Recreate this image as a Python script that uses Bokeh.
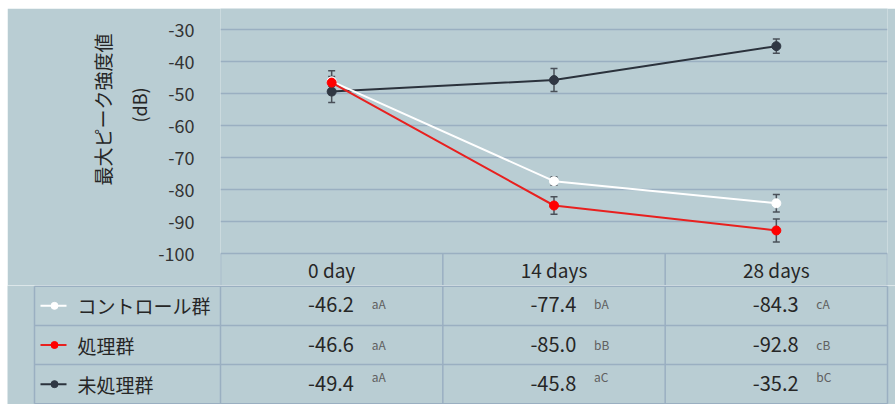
from bokeh.plotting import figure
from bokeh.models import Range1d, FixedTicker, ColumnDataSource, Whisker, TeeHead, Title
from bokeh.layouts import column
from bokeh.embed import file_html
from bokeh.resources import INLINE
from bokeh.core.properties import value

# ---------------- data ----------------
days = ["0 day", "14 days", "28 days"]
series_names = ["コントロール群", "処理群", "未処理群"]
control = [-46.2, -77.4, -84.3]
treated = [-46.6, -85.0, -92.8]
untreated = [-49.4, -45.8, -35.2]
control_err = [1.5, 1.3, 2.7]
treated_err = [3.7, 2.7, 3.6]
untreated_err = [3.4, 3.6, 2.2]
control_sig = ["aA", "bA", "cA"]
treated_sig = ["aA", "bB", "cB"]
untreated_sig = ["aA", "aC", "bC"]
y_ticks = [-100, -90, -80, -70, -60, -50, -40, -30]
y_title = "最大ピーク強度値"
y_unit = "(dB)"

# ---------------- style / layout ----------------
BG = "#b9cdd3"
GRID = "#9aafc1"
TXT = "#262626"
FONT = "Noto Sans CJK JP"
line_colors = ["#ffffff", "#e8201f", "#2b323c"]
marker_colors = ["#ffffff", "#ff0000", "#2f3743"]
ERR = "#4a5059"

PAGE_X0, PAGE_Y0 = 7, 8          # white strip left / top as in the reference
W = 888
TOP_H = 277
TAB_H = 119
FRAME_L, FRAME_R = 220, 887      # page x of plot frame
LEFT = FRAME_L - PAGE_X0
RIGHT = PAGE_X0 + W - FRAME_R
ppu = (FRAME_R - FRAME_L) / len(days)
PX_PER_DB = 3.2
Y_BOTTOM = min(y_ticks) - 32 / PX_PER_DB      # header row below -100
Y_TOP = max(y_ticks) + 21 / PX_PER_DB

x_pos = [i + 0.5 for i in range(len(days))]

p = figure(width=W, height=TOP_H,
           x_range=Range1d(0, len(days)), y_range=Range1d(Y_BOTTOM, Y_TOP),
           output_backend="svg", toolbar_location=None, x_axis_type=None,
           min_border_left=LEFT, min_border_right=RIGHT,
           min_border_top=0, min_border_bottom=0,
           background_fill_color=BG, border_fill_color=BG,
           outline_line_color=None)
p.frame_align = False

ya = p.yaxis[0]
ya.ticker = FixedTicker(ticks=y_ticks)
ya.major_label_overrides = {tk: str(tk) for tk in y_ticks}
ya.axis_line_color = None
ya.major_tick_line_color = None
ya.minor_tick_line_color = None
ya.major_label_text_font = FONT
ya.major_label_text_font_size = "18px"
ya.major_label_text_color = "#333333"
ya.major_label_standoff = 20

# two-line y title as two left-side titles
p.add_layout(Title(text=y_unit, align="left", offset=163, standoff=8,
                   text_font=FONT, text_font_size="18px", text_font_style="normal",
                   text_color=TXT), "left")
p.add_layout(Title(text=y_title, align="left", offset=100, standoff=8,
                   text_font=FONT, text_font_size="19px", text_font_style="normal",
                   text_color=TXT), "left")

p.xgrid.visible = False
p.ygrid.ticker = FixedTicker(ticks=y_ticks)
p.ygrid.grid_line_color = GRID
p.ygrid.grid_line_width = 1.5

# header row of the table (inside the plot frame, below -100)
p.segment(list(range(len(days) + 1)), [Y_BOTTOM] * (len(days) + 1),
          list(range(len(days) + 1)), [min(y_ticks)] * (len(days) + 1),
          line_color=GRID, line_width=1.5)
p.text(x_pos, [(Y_BOTTOM + min(y_ticks)) / 2] * len(days), text=days,
       text_align="center", text_baseline="middle",
       text_font=value(FONT), text_font_size="19px", text_color=TXT)

series = [control, treated, untreated]
errs = [control_err, treated_err, untreated_err]
sigs = [control_sig, treated_sig, untreated_sig]

for k in [2, 0, 1]:
    vals, err = series[k], errs[k]
    src = ColumnDataSource(dict(x=x_pos, y=vals,
                                upper=[v + e for v, e in zip(vals, err)],
                                lower=[v - e for v, e in zip(vals, err)]))
    p.add_layout(Whisker(source=src, base="x", upper="upper", lower="lower",
                         dimension="height", line_color=ERR, line_width=1.5,
                         upper_head=TeeHead(size=7, line_color=ERR, line_width=1.5),
                         lower_head=TeeHead(size=7, line_color=ERR, line_width=1.5)))
    p.line("x", "y", source=src, line_color=line_colors[k], line_width=2)
    p.scatter("x", "y", source=src, size=9, fill_color=marker_colors[k],
              line_color=marker_colors[k])

# ---------------- table body ----------------
def ux(page_x):
    return (page_x - FRAME_L) / ppu

t = figure(width=W, height=TAB_H,
           x_range=Range1d(ux(PAGE_X0), ux(PAGE_X0 + W)), y_range=Range1d(3.02, -0.02),
           output_backend="svg", toolbar_location=None,
           x_axis_type=None, y_axis_type=None, min_border=0,
           background_fill_color=BG, border_fill_color=BG, outline_line_color=None)
t.frame_align = False
t.grid.visible = False

n_rows = len(series_names)
tab_left = ux(34)
hx0, hx1, hy0, hy1 = [], [], [], []
for r in range(n_rows + 1):
    hx0.append(tab_left); hx1.append(len(days)); hy0.append(r); hy1.append(r)
for c in [tab_left] + list(range(len(days) + 1)):
    hx0.append(c); hx1.append(c); hy0.append(0); hy1.append(n_rows)
t.segment(hx0, hy0, hx1, hy1, line_color=GRID, line_width=1.5)

row_y = [r + 0.5 for r in range(n_rows)]
t.segment([ux(40)] * n_rows, row_y, [ux(66)] * n_rows, row_y,
          line_color=line_colors, line_width=2)
t.scatter([ux(54)] * n_rows, row_y, size=7, fill_color=marker_colors, line_color=marker_colors)
t.text([ux(77)] * n_rows, row_y, text=series_names, text_align="left", text_baseline="middle",
       text_font=value(FONT), text_font_size="19px", text_color=TXT)

sig_raise = [-2, -1, -8]
for r in range(n_rows):
    t.text([xp + 0.10 for xp in x_pos], [row_y[r]] * len(days),
           text=["%.1f" % v for v in series[r]], text_align="right", text_baseline="middle",
           text_font=value(FONT), text_font_size="20px", text_color=TXT, y_offset=-1)
    t.text([xp + 0.18 for xp in x_pos], [row_y[r]] * len(days), text=sigs[r],
           text_align="left", text_baseline="middle", y_offset=sig_raise[r],
           text_font=value(FONT), text_font_size="12px", text_color="#606060")

layout = column(p, t, spacing=0, margin=(PAGE_Y0, 0, 0, PAGE_X0))
open("out.html", "w").write(file_html(layout, INLINE))
